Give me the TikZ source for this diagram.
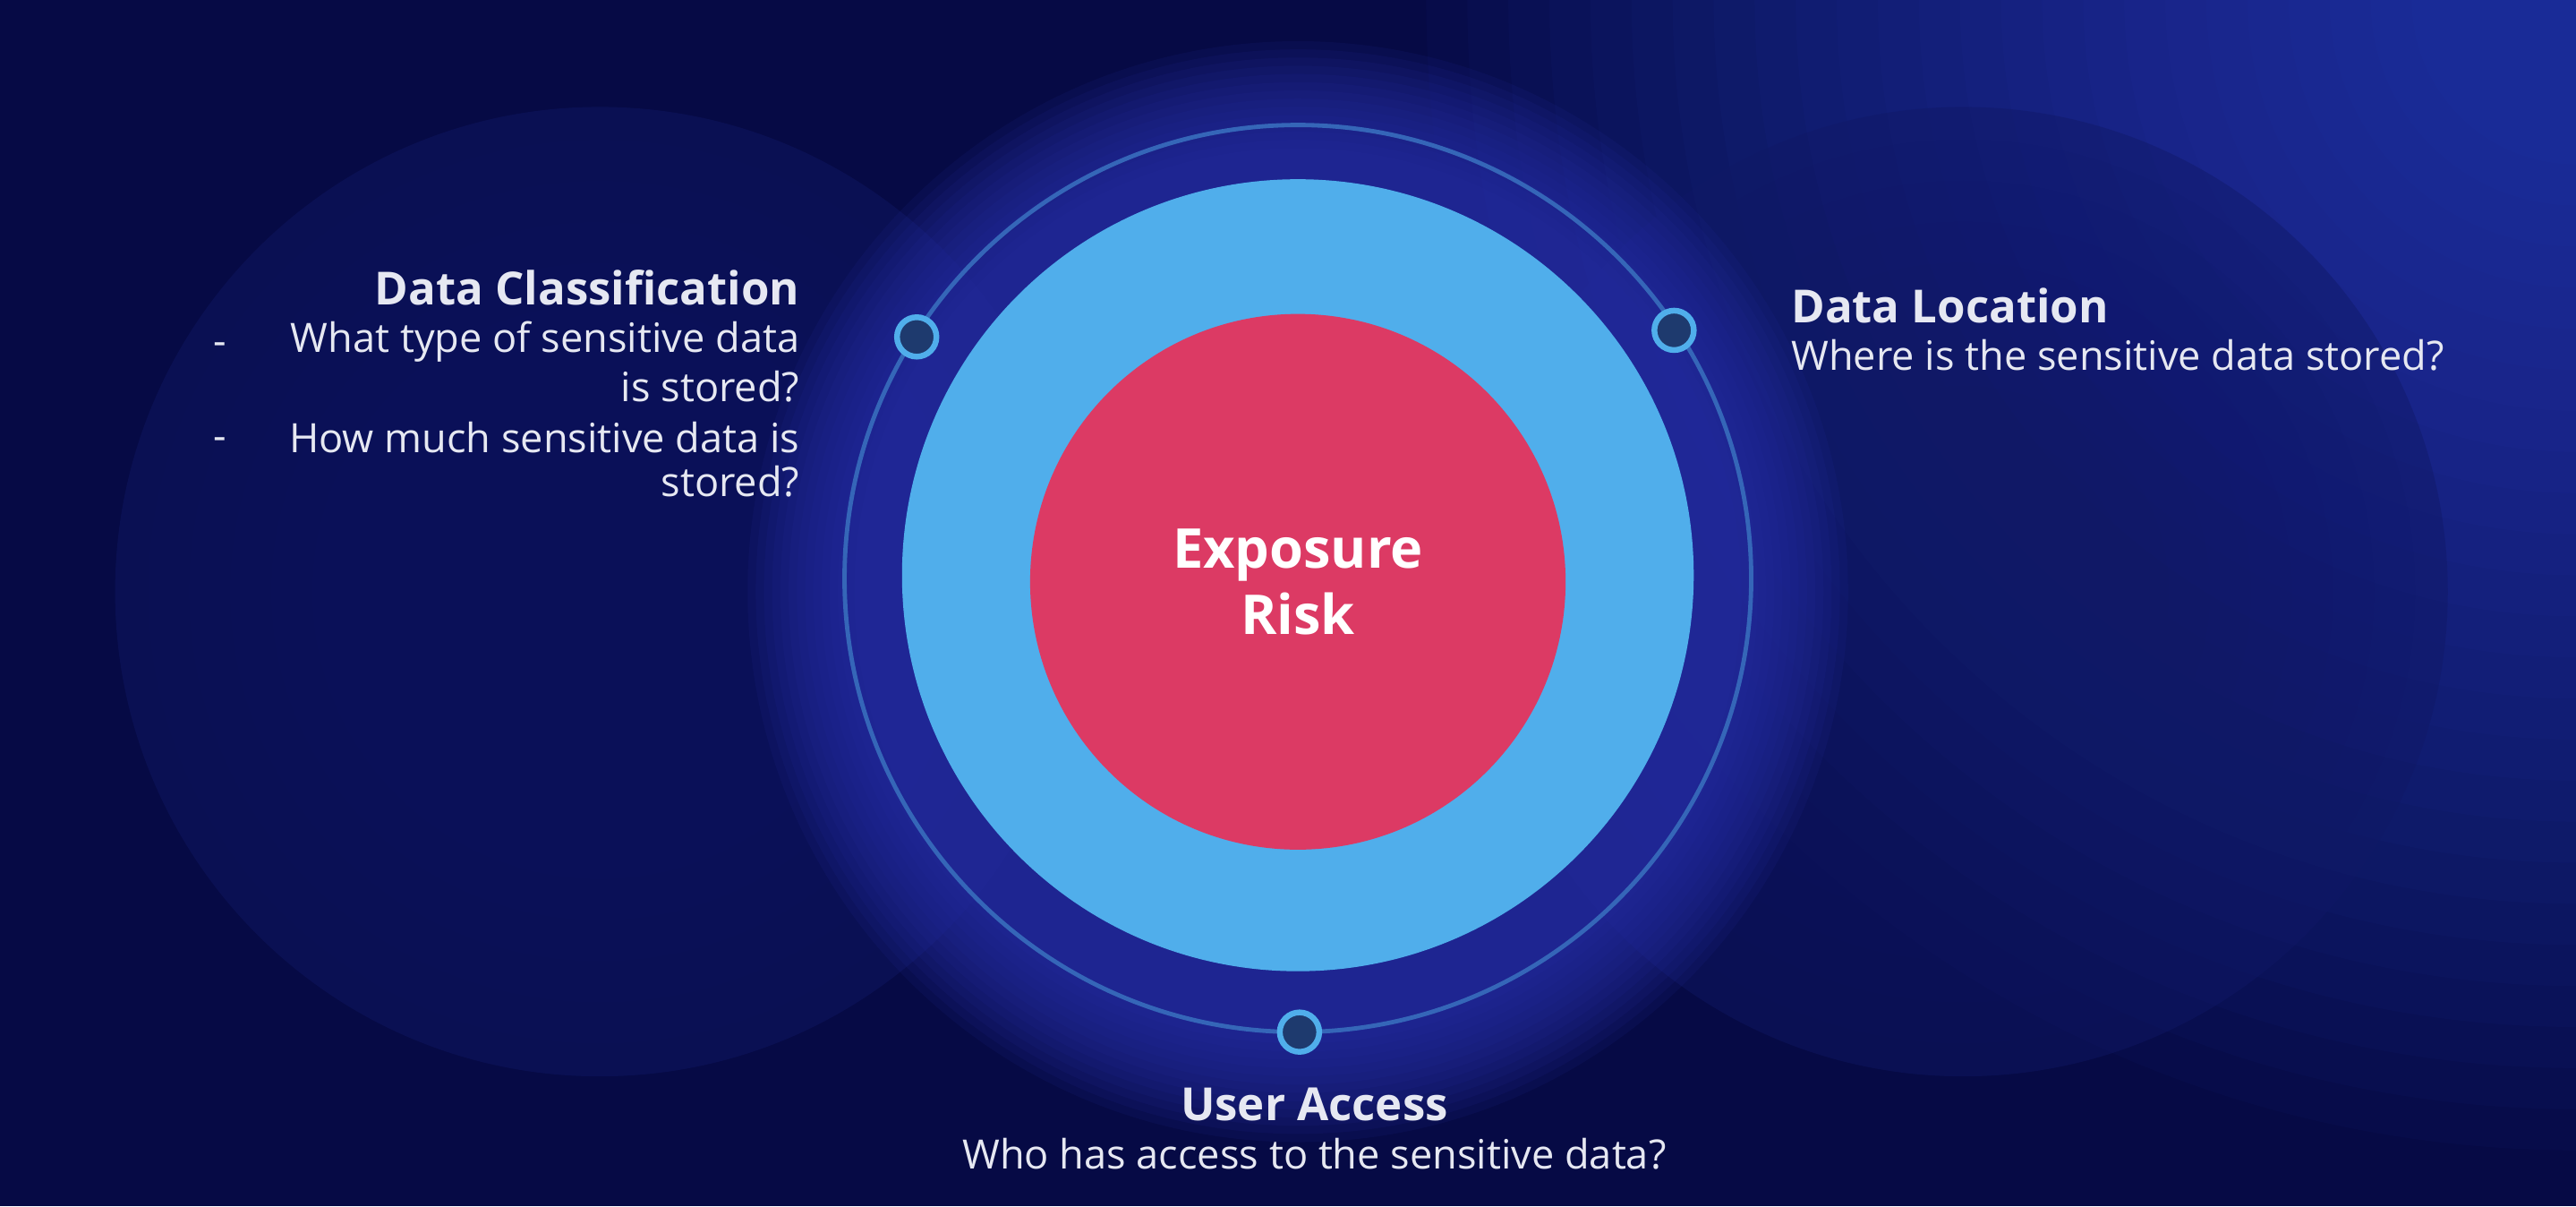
\documentclass[tikz,border=0pt]{standalone}
\usepackage{fontspec}
\setmainfont{Open Sans}
\definecolor{bg}{HTML}{060A45}
\definecolor{tr}{HTML}{3048CC}
\definecolor{side}{HTML}{101866}
\definecolor{glowc}{HTML}{2830A8}
\definecolor{ringc}{HTML}{3566B8}
\definecolor{lblue}{HTML}{50AEEB}
\definecolor{redc}{HTML}{DC3A64}
\definecolor{dotc}{HTML}{1E3A6E}
\definecolor{txt}{HTML}{E6E8F2}
\tikzset{
  dotn/.style={circle,draw=lblue,line width=2pt,fill=dotc,minimum size=0.48cm,inner sep=0pt},
  head/.style={font=\fontsize{15.8}{18}\selectfont\bfseries,text=txt,inner sep=0pt},
  body/.style={font=\fontsize{14}{16}\selectfont,text=txt,inner sep=0pt},
  glowlayer/.style={fill=glowc,opacity=0.11},
  trlayer/.style={fill=tr,opacity=0.045},
  sidelayer/.style={fill=side,opacity=0.07}
}
\begin{document}
\begin{tikzpicture}[x=0.02cm,y=-0.02cm]
\useasboundingbox (0,0) rectangle (1568,734);
\fill[bg] (0,0) rectangle (1568,734);
\begin{scope}
\clip (0,0) rectangle (1568,734);
\foreach \r in {2,2.5,...,14} \fill[trlayer] (1568,0) circle[radius=\r cm];
\end{scope}
\fill[side,opacity=0.45] (365,360) circle[radius=5.9cm];
\fill[side,opacity=0.45] (1195,360) circle[radius=5.9cm];
\foreach \r in {0.5,1,...,5.5} {
  \fill[sidelayer] (365,360) circle[radius=\r cm];
  \fill[sidelayer] (1195,360) circle[radius=\r cm];
}
\foreach \r in {5.4,5.5,...,6.8} \fill[glowlayer] (790,360) circle[radius=\r cm];
\node[circle,draw=ringc,line width=1.5pt,minimum size=11.04cm,inner sep=0pt] (ring) at (790,352) {};
\node[circle,fill=lblue,minimum size=9.64cm,inner sep=0pt] (lb) at (790,350) {};
\node[circle,fill=redc,minimum size=6.52cm,inner sep=0pt,align=center,text=white,font=\fontsize{19}{23}\selectfont\bfseries] (risk) at (790,354) {Exposure\\Risk};
\node[dotn] (d1) at (558,205) {};
\node[dotn] (d2) at (1019,201) {};
\node[dotn] (d3) at (791,628) {};
\node[head,anchor=east] (t1) at (487,175) {Data Classification};
\node[body,anchor=east] (t1a) at (487,208) {What type of sensitive data};
\node[body,anchor=east] (t1b) at (487,235) {is stored?};
\node[body,anchor=east] (t1c) at (487,266) {How much sensitive data is};
\node[body,anchor=east] (t1d) at (487,293) {stored?};
\node[body] (b1) at (134,212) {-};
\node[body] (b2) at (134,270) {-};
\node[head,anchor=west] (t2) at (1090,186) {Data Location};
\node[body,anchor=west] (t2a) at (1090,216) {Where is the sensitive data stored?};
\node[head] (t3) at (800,672) {User Access};
\node[body] (t3a) at (800,702) {Who has access to the sensitive data?};
\end{tikzpicture}
\end{document}
